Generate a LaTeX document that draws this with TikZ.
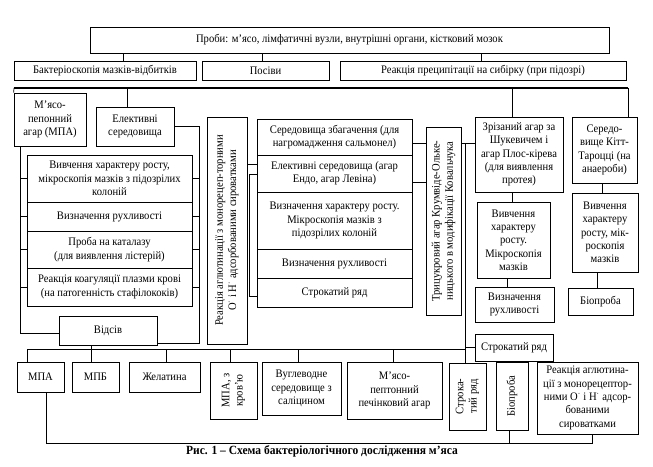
\documentclass[tikz,border=0pt]{standalone}
\usepackage{fontspec}
\setmainfont[FakeStretch=0.92]{Liberation Serif}
\newcommand\mybox[6]{\node[bx, minimum width={(#4-#2)*1pt}, minimum height={(#5-#3)*1pt}] (#1) at ({(#2+#4)/2},{(#3+#5)/2}) {#6};}
\newcommand\myvbox[6]{\node[bx, minimum width={(#4-#2)*1pt}, minimum height={(#5-#3)*1pt}] (#1) at ({(#2+#4)/2},{(#3+#5)/2}) {};\node[rotate=90, align=center, inner sep=0pt] (#1t) at (#1.center) {#6};}
\begin{document}
\begin{tikzpicture}[x=1pt,y=-1pt,
  every node/.style={font=\fontsize{11.5}{13.3}\selectfont},
  bx/.style={draw, line width=0.7pt, align=center, inner sep=1pt},
  ln/.style={line width=0.7pt}]
\useasboundingbox (0,0) rectangle (653,466);
\fill[white] (0,0) rectangle (653,466);

\mybox{top}{90}{27}{609}{53}{Проби: м’ясо, лімфатичні вузли, внутрішні органи, кістковий мозок}
\mybox{bak}{14}{61}{196}{80}{Бактеріоскопія мазків-відбитків}
\mybox{pos}{202}{61}{329}{80}{Посіви}
\mybox{rea}{340}{61}{626}{80}{Реакція преципітації на сибірку (при підозрі)}

\mybox{mpa1}{14}{93}{86}{146}{М’ясо-\\пепонний\\агар (МПА)}
\mybox{el1}{96}{107}{174}{146}{Елективні\\середовища}

\mybox{s1}{27}{155}{192}{202}{Вивчення характеру росту,\\мікроскопія мазків з підозрілих\\колоній}
\mybox{s2}{27}{202}{192}{231}{Визначення рухливості}
\mybox{s3}{27}{231}{192}{268}{Проба на каталазу\\(для виявлення лістерій)}
\mybox{s4}{27}{268}{192}{306}{Реакція коагуляції плазми крові\\(на патогенність стафілококів)}
\mybox{vid}{59}{316}{157}{345}{Відсів}

\myvbox{agl}{207}{117}{247}{344}{Реакція аглютинації з монорецеп-торними\\О\textsuperscript{·} і Н\textsuperscript{·} адсорбованими сироватками}

\mybox{m1}{257}{119}{412}{155}{Середовища збагачення (для\\нагромадження сальмонел)}
\mybox{m2}{257}{155}{412}{192}{Елективні середовища (агар\\Ендо, агар Левіна)}
\mybox{m3}{257}{192}{412}{249}{Визначення характеру росту.\\Мікроскопія мазків з\\підозрілих колоній}
\mybox{m4}{257}{249}{412}{278}{Визначення рухливості}
\mybox{m5}{257}{278}{412}{307}{Строкатий ряд}

\myvbox{tri}{426}{127}{461}{315}{Трицукровий агар Крумвіде-Олькe-\\ницького в модифікації Ковальчука}

\mybox{zriz}{475}{117}{563}{192}{Зрізаний агар за\\Шукевичем і\\агар Плос-кірева\\(для виявлення\\протея)}
\mybox{zv}{477}{202}{550}{278}{Вивчення\\характеру\\росту.\\Мікроскопія\\мазків}
\mybox{zr}{475}{287}{554}{322}{Визначення\\рухливості}
\mybox{str2}{475}{334}{553}{361}{Строкатий ряд}
\mybox{kitt}{572}{117}{637}{183}{Середо-\\вище Кітт-\\Тароцці (на\\анаероби)}
\mybox{kv}{572}{193}{638}{272}{Вивчення\\характеру\\росту, мік-\\роскопія\\мазків}
\mybox{kb}{568}{288}{633}{315}{Біопроба}

\mybox{b1}{17}{362}{64}{392}{МПА}
\mybox{b2}{72}{362}{119}{392}{МПБ}
\mybox{b3}{129}{362}{200}{392}{Желатина}
\myvbox{b4}{210}{362}{257}{419}{МПА, з\\кров’ю}
\mybox{b5}{262}{362}{341}{415}{Вуглеводне\\середовище з\\саліцином}
\mybox{b6}{347}{362}{442}{419}{М’ясо-\\пептонний\\печінковий агар}
\myvbox{b7}{449}{363}{486}{430}{Строка-\\тий ряд}
\myvbox{b8}{496}{362}{528}{430}{Біопроба}
\mybox{b9}{537}{362}{638}{434}{Реакція аглютина-\\ції з монорецептор-\\ними О\textsuperscript{·} і Н\textsuperscript{·} адсор-\\бованими\\сироватками}

\node[font=\bfseries\fontsize{12.5}{14}\selectfont] (cap) at (322,451) {Рис. 1 – Схема бактеріологічного дослідження м’яса};

% connectors
\foreach \n/\x in {bak/123,pos/262,rea/481} \draw[ln] (top.south -| \x,0) -- (\n.north -| \x,0);
\coordinate (barL) at (14,88);
\coordinate (barR) at (628,88);
\draw[line width=1.3pt] (barL) -- (barR);
\draw[ln] (barL) -- (mpa1.north west);
\draw[ln] (barL -| 127,0) -- (el1.north -| 127,0);
\draw[ln] (barR -| 512,0) -- (zriz.north -| 512,0);
\draw[ln] (barR) -- (kitt.north -| 628,0);

\draw[ln] (mpa1.south -| 20,0) -- (20,333) -- (vid.west |- 0,333);
\foreach \n in {s1,s2,s3,s4} \draw[ln] (\n.west) -- ++(-7,0);
\draw[ln] (el1.east) -| (199,343) -- (vid.east |- 0,343);
\foreach \n in {s1,s2,s3,s4} \draw[ln] (\n.east) -- ++(7,0);

\draw[ln] (vid.south -| 91,0) -- (b2.north -| 91,0);
\draw[ln] (b1.north -| 27,0) -- (27,349) -- (465,349);
\foreach \n/\x in {b3/166,b4/230,b5/298,b6/393} \draw[ln] (\x,349) -- (\n.north -| \x,0);

\draw[ln] (agl.east |- 0,164) -- (m2.west |- 0,164);
\draw[ln] (m2.west |- 0,174) -- (249,174) -- (249,296) -- (m5.west |- 0,296);
\draw[ln] (m1.east |- 0,143) -- (tri.west |- 0,143);
\draw[ln] (m2.east |- 0,182) -- (tri.west |- 0,182);

\draw[ln] (tri.east |- 0,143) -- (zriz.west |- 0,143);
\draw[ln] (465,143) -- (b7.north -| 465,0);
\draw[ln] (465,347) -- (str2.west |- 0,347);

\draw[ln] (zriz.south -| 512,0) -- (zv.north -| 512,0);
\draw[ln] (zv.south -| 507,0) -- (zr.north -| 507,0);
\draw[ln] (kitt.south -| 602,0) -- (kv.north -| 602,0);
\draw[ln] (kv.south -| 597,0) -- (kb.north -| 597,0);

\draw[ln] (b1.south -| 46,0) -- (46,443) -- (592,443) -- (b9.south -| 592,0);
\draw[ln] (509,443) -- (b8.south -| 509,0);
\end{tikzpicture}
\end{document}
